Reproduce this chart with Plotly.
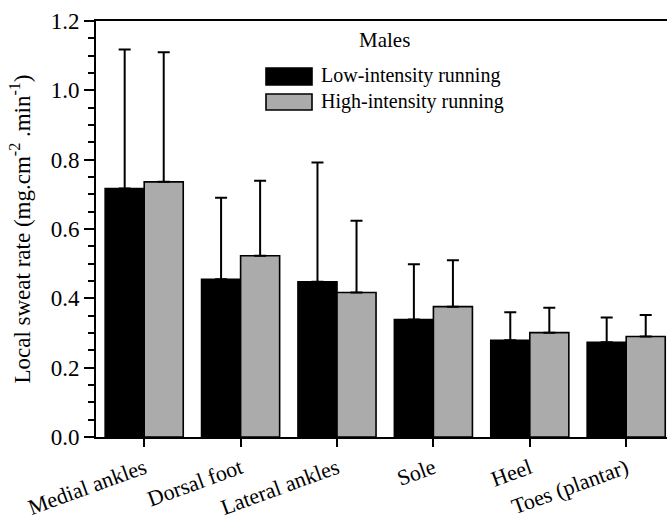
import plotly.graph_objects as go

categories = ["Medial ankles", "Dorsal foot", "Lateral ankles", "Sole", "Heel", "Toes (plantar)"]
low_mean = [0.717, 0.455, 0.448, 0.339, 0.279, 0.273]
low_sd = [0.401, 0.235, 0.344, 0.159, 0.081, 0.072]
high_mean = [0.736, 0.523, 0.417, 0.376, 0.301, 0.290]
high_sd = [0.374, 0.216, 0.207, 0.134, 0.072, 0.062]
series_names = ["Low-intensity running", "High-intensity running"]
legend_title = "Males"
y_ticks = [0.0, 0.2, 0.4, 0.6, 0.8, 1.0, 1.2]

FONT = "'Liberation Serif', 'Times New Roman', Times, serif"
BLACK = "#000000"
GRAY = "#ababab"

fig = go.Figure()
for name, vals, sds, col in [(series_names[0], low_mean, low_sd, BLACK),
                             (series_names[1], high_mean, high_sd, GRAY)]:
    fig.add_trace(go.Bar(
        x=categories, y=vals, name=name,
        marker=dict(color=col, line=dict(color="black", width=1.6)),
        error_y=dict(type="data", array=sds, arrayminus=[0] * len(sds), symmetric=False,
                     color="black", thickness=2, width=6),
        showlegend=False,
    ))

# plot area in pixels: x 96..667, y 21..437
W, H = 667, 521
L, R, T, B = 96, 667, 21, 437
def px(x):
    return (x - L) / (R - L)
def py(y):
    return (B - y) / (B - T)

shapes = [
    dict(type="rect", xref="paper", yref="paper", x0=px(266), x1=px(312), y0=py(85), y1=py(68),
         fillcolor=BLACK, line=dict(color="black", width=1.6)),
    dict(type="rect", xref="paper", yref="paper", x0=px(266), x1=px(312), y0=py(110), y1=py(94),
         fillcolor=GRAY, line=dict(color="black", width=1.6)),
]
annotations = [
    dict(text=legend_title, xref="paper", yref="paper", x=px(384), y=py(40), showarrow=False,
         xanchor="center", yanchor="middle", font=dict(family=FONT, size=21, color="black")),
    dict(text=series_names[0], xref="paper", yref="paper", x=px(319), y=py(76), showarrow=False,
         xanchor="left", yanchor="middle", font=dict(family=FONT, size=20, color="black")),
    dict(text=series_names[1], xref="paper", yref="paper", x=px(319), y=py(102), showarrow=False,
         xanchor="left", yanchor="middle", font=dict(family=FONT, size=20, color="black")),
]

fig.update_layout(
    width=W, height=H,
    margin=dict(l=L, r=W - R, t=T, b=H - B, autoexpand=False),
    paper_bgcolor="white", plot_bgcolor="white",
    barmode="group", bargap=0.19, bargroupgap=0,
    font=dict(family=FONT, size=20, color="black"),
    shapes=shapes, annotations=annotations,
    xaxis=dict(
        range=[-0.5, -0.5 + (R - L) / 96.4], automargin=False,
        showline=True, linecolor="black", linewidth=2, mirror=True,
        ticks="outside", ticklen=8, tickwidth=2, tickcolor="black",
        tickangle=-20, tickfont=dict(family=FONT, size=22),
        showgrid=False, zeroline=False,
    ),
    yaxis=dict(
        range=[0, 1.2], tickvals=y_ticks, ticktext=[f"{v:.1f}" for v in y_ticks],
        automargin=False,
        showline=True, linecolor="black", linewidth=2,
        ticks="outside", ticklen=10, tickwidth=2, tickcolor="black",
        minor=dict(dtick=0.05, ticks="outside", ticklen=6, tickwidth=1.5, tickcolor="black", showgrid=False),
        tickfont=dict(family=FONT, size=23),
        showgrid=False, zeroline=False,
        title=dict(text="Local sweat rate (mg.cm<sup>-2</sup> .min<sup>-1</sup>)",
                   font=dict(family=FONT, size=23), standoff=14),
    ),
)

fig.write_html("out.html")
